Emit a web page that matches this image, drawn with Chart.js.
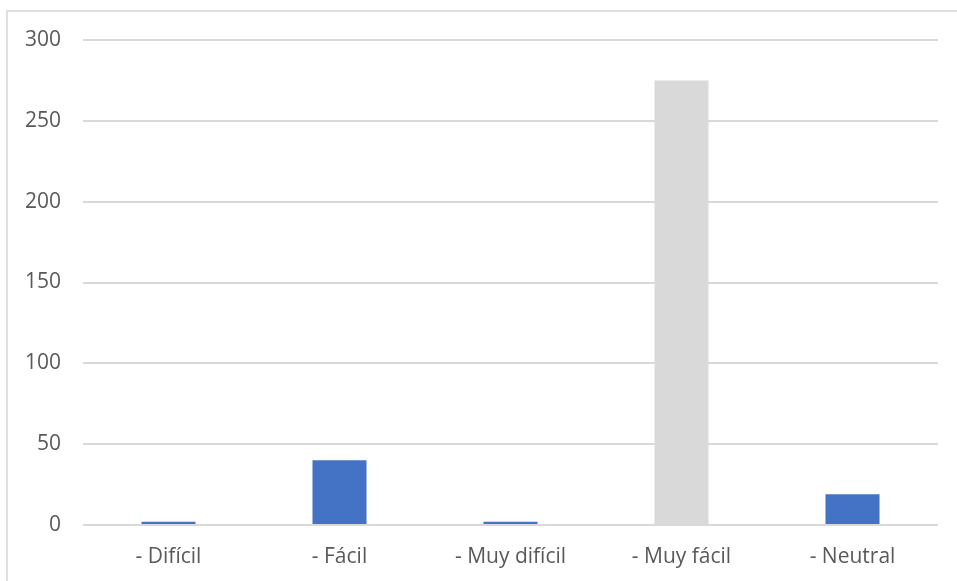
<!DOCTYPE html>
<html>
<head>
<meta charset="utf-8">
<script src="https://cdn.jsdelivr.net/npm/chart.js@4/dist/chart.umd.min.js"></script>
<style>
    html, body { margin: 0; padding: 0; background: #fff; overflow: hidden; }
    #marco {
        position: absolute; left: 6px; top: 10px; width: 980px; height: 620px;
        border: 2px solid #dedede; box-sizing: border-box;
    }
    #wrap { position: absolute; left: 0; top: 0; width: 957px; height: 581px; }
</style>
</head>
<body>
<div id="marco"></div>
<div id="wrap"><canvas id="grafico" width="957" height="581"></canvas></div>
<script>
// Respuestas por nivel de dificultad
const categorias = ['- Difícil', '- Fácil', '- Muy difícil', '- Muy fácil', '- Neutral'];
const respuestas = [2, 40, 2, 275, 19];
const coloresBarras = ['#4472C4', '#4472C4', '#4472C4', '#D9D9D9', '#4472C4'];

const ctx = document.getElementById('grafico').getContext('2d');
new Chart(ctx, {
    type: 'bar',
    data: {
        labels: categorias,
        datasets: [{
            data: respuestas,
            backgroundColor: coloresBarras,
            borderWidth: 0,
            categoryPercentage: 1,
            barPercentage: 0.316
        }]
    },
    options: {
        responsive: false,
        animation: false,
        layout: { padding: { top: 40, left: 6, right: 19, bottom: 0 } },
        plugins: {
            legend: { display: false },
            tooltip: { enabled: false }
        },
        scales: {
            x: {
                grid: { display: false },
                border: { display: false },
                ticks: {
                    color: '#595959',
                    font: { family: 'Open Sans', size: 21 },
                    padding: 11,
                    maxRotation: 0
                },
                afterFit: scale => { scale.height = 56; }
            },
            y: {
                min: 0,
                max: 300,
                border: { display: false },
                grid: { color: '#d9d9d9', lineWidth: 2, drawTicks: false },
                ticks: {
                    stepSize: 50,
                    color: '#595959',
                    font: { family: 'Open Sans', size: 21 },
                    padding: 22
                },
                afterFit: scale => { scale.width = 77; }
            }
        }
    }
});
</script>
</body>
</html>
